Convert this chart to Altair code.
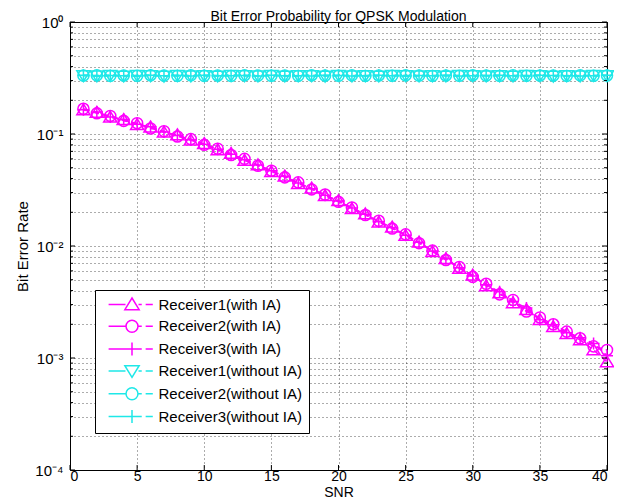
import altair as alt
import pandas as pd

FONT = "Liberation Sans, Arial, Helvetica, sans-serif"

snr = list(range(1, 41))
series_names = ["Receiver1(with IA)", "Receiver2(with IA)", "Receiver3(with IA)",
                "Receiver1(without IA)", "Receiver2(without IA)", "Receiver3(without IA)"]

r1_ia = [0.164, 0.156, 0.141, 0.134, 0.121, 0.115, 0.104, 0.098, 0.088, 0.082,
         0.072, 0.067, 0.058, 0.053, 0.046, 0.042, 0.036, 0.0328, 0.0281, 0.0254,
         0.0215, 0.0193, 0.0163, 0.0147, 0.0124, 0.0108, 0.0089, 0.0077, 0.0063, 0.0055,
         0.0044, 0.0038, 0.0031, 0.0027, 0.0022, 0.0019, 0.00165, 0.00145, 0.00118, 0.00092]
r2_ia = [0.168, 0.153, 0.145, 0.131, 0.125, 0.112, 0.106, 0.095, 0.090, 0.080,
         0.074, 0.065, 0.060, 0.052, 0.047, 0.041, 0.037, 0.0320, 0.0288, 0.0248,
         0.0221, 0.0189, 0.0168, 0.0143, 0.0127, 0.0106, 0.0091, 0.0075, 0.0065, 0.0053,
         0.0046, 0.0037, 0.0033, 0.0026, 0.0023, 0.0020, 0.00172, 0.00150, 0.00127, 0.00118]
r3_ia = [0.165, 0.157, 0.142, 0.135, 0.122, 0.116, 0.104, 0.097, 0.089, 0.081,
         0.073, 0.066, 0.059, 0.053, 0.047, 0.042, 0.0365, 0.0325, 0.0284, 0.0252,
         0.0218, 0.0192, 0.0165, 0.0146, 0.0125, 0.0108, 0.0090, 0.0077, 0.0064, 0.0054,
         0.0045, 0.0039, 0.0032, 0.0028, 0.0022, 0.00198, 0.00168, 0.00152, 0.00135, 0.00105]
r1_no = [0.333, 0.331, 0.335, 0.330, 0.334, 0.332, 0.329, 0.334, 0.331, 0.333,
         0.330, 0.335, 0.332, 0.331, 0.334, 0.330, 0.333, 0.332, 0.329, 0.334,
         0.331, 0.333, 0.330, 0.335, 0.332, 0.331, 0.333, 0.330, 0.334, 0.332,
         0.331, 0.333, 0.330, 0.334, 0.332, 0.329, 0.333, 0.331, 0.334, 0.332]
r2_no = [0.332, 0.334, 0.330, 0.333, 0.331, 0.335, 0.332, 0.330, 0.334, 0.331,
         0.333, 0.330, 0.334, 0.332, 0.331, 0.333, 0.330, 0.335, 0.332, 0.331,
         0.334, 0.330, 0.333, 0.331, 0.334, 0.332, 0.330, 0.333, 0.331, 0.335,
         0.332, 0.330, 0.334, 0.331, 0.333, 0.332, 0.330, 0.334, 0.331, 0.333]
r3_no = [0.334, 0.330, 0.333, 0.332, 0.330, 0.334, 0.331, 0.333, 0.330, 0.334,
         0.332, 0.331, 0.333, 0.330, 0.334, 0.331, 0.332, 0.330, 0.334, 0.333,
         0.330, 0.332, 0.334, 0.331, 0.330, 0.333, 0.332, 0.334, 0.330, 0.331,
         0.333, 0.334, 0.331, 0.330, 0.334, 0.333, 0.331, 0.330, 0.332, 0.334]

series_values = [r1_ia, r2_ia, r3_ia, r1_no, r2_no, r3_no]
series_colors = ["#ff00ff", "#ff00ff", "#ff00ff", "#1ee8e8", "#1ee8e8", "#1ee8e8"]

x_ticks = [0, 5, 10, 15, 20, 25, 30, 35, 40]
y_major = [1e-4, 1e-3, 1e-2, 1e-1, 1.0]
y_major_labels = ["10\u207b\u2074", "10\u207b\u00b3", "10\u207b\u00b2", "10\u207b\u00b9", "10\u2070"]
y_minor = [m * 10.0 ** e for e in range(-4, 0) for m in range(2, 10)]

# marker shapes (plot) and legend samples (line + marker)
TRI_UP = "M0,-1L1.1,0.8L-1.1,0.8Z"
TRI_DN = "M0,1L1.1,-0.8L-1.1,-0.8Z"
CIRC = "M0.92,0A0.92,0.92,0,1,1,-0.92,0A0.92,0.92,0,1,1,0.92,0Z"
PLUS = "M-1,0L1,0M0,-1L0,1"
marker_paths = [TRI_UP, CIRC, PLUS, TRI_DN, CIRC, PLUS]
LINE_SAMPLE = "M-3.6,0L-1,0M1,0L1.5,0M2.1,0L3.2,0"
legend_paths = [LINE_SAMPLE + p for p in marker_paths]

rows = []
for name, vals in zip(series_names, series_values):
    for s, v in zip(snr, vals):
        rows.append({"series": name, "snr": s, "ber": v})
df = pd.DataFrame(rows)

W, H = 537, 448

label_expr = " : ".join(
    f"abs(datum.value - {v}) < {v * 1e-6} ? '{t}'" for v, t in zip(y_major, y_major_labels)
) + " : ''"

x_enc = alt.X("snr:Q", scale=alt.Scale(domain=[0, 40], nice=False, zero=False),
              axis=alt.Axis(values=x_ticks, title="SNR", grid=True, ticks=False, tickSize=0,
                            domain=False, labelPadding=-1, format="d", labelFontSize=14,
                            titleFontSize=14, titleY=26, titleBaseline="alphabetic"))
y_enc = alt.Y("ber:Q", scale=alt.Scale(type="log", domain=[1e-4, 1], nice=False),
              axis=alt.Axis(values=y_major + y_minor, title="Bit Error Rate", grid=True,
                            ticks=False, tickSize=0, domain=False, labelPadding=7,
                            labelExpr=label_expr, labelBaseline="middle",
                            titleX=-48, titleY=H / 2, titleAngle=270,
                            titleBaseline="middle", titleAlign="center"))

color_scale = alt.Scale(domain=series_names, range=series_colors)

lines = alt.Chart(df).mark_line(strokeWidth=1.5, strokeDash=[6, 4]).encode(
    x=x_enc, y=y_enc,
    color=alt.Color("series:N", scale=color_scale, legend=None),
    detail="series:N",
)

points = alt.Chart(df).mark_point(filled=False, strokeWidth=1.5, size=144, opacity=1).encode(
    x=x_enc, y=y_enc,
    color=alt.Color("series:N", scale=color_scale, legend=None),
    shape=alt.Shape("series:N", scale=alt.Scale(domain=series_names, range=marker_paths), legend=None),
    order=alt.Order("idx:Q"),
).transform_calculate(idx="indexof(" + str(series_names) + ", datum.series) * 100 + datum.snr")

legend_props = dict(title=None, orient="none", legendX=25, legendY=268,
                    strokeColor="black", fillColor="white", padding=7,
                    labelFont=FONT, labelFontSize=15, labelColor="black",
                    symbolSize=169, symbolStrokeWidth=1.5,
                    symbolOffset=22.5, labelOffset=19, rowPadding=3.8,
                    labelLimit=400)

legend_layer = alt.Chart(df).mark_point(filled=False, strokeWidth=1.5, size=169, opacity=1).encode(
    x=x_enc, y=y_enc,
    color=alt.Color("series:N", scale=color_scale, legend=alt.Legend(**legend_props)),
    shape=alt.Shape("series:N", scale=alt.Scale(domain=series_names, range=legend_paths),
                    legend=alt.Legend(**legend_props)),
).transform_filter("datum.snr < 0")

xt = pd.DataFrame({"snr": x_ticks})
ymaj = pd.DataFrame({"ber": y_major})
ymin = pd.DataFrame({"ber": y_minor})

tick_style = dict(color="black", strokeWidth=1)
x_ticks_bottom = alt.Chart(xt).mark_rule(**tick_style).encode(x=x_enc, y=alt.value(H), y2=alt.value(H - 5))
x_ticks_top = alt.Chart(xt).mark_rule(**tick_style).encode(x=x_enc, y=alt.value(0), y2=alt.value(5))
y_maj_left = alt.Chart(ymaj).mark_rule(**tick_style).encode(y=y_enc, x=alt.value(0), x2=alt.value(5))
y_maj_right = alt.Chart(ymaj).mark_rule(**tick_style).encode(y=y_enc, x=alt.value(W), x2=alt.value(W - 5))
y_min_left = alt.Chart(ymin).mark_rule(**tick_style).encode(y=y_enc, x=alt.value(0), x2=alt.value(3))
y_min_right = alt.Chart(ymin).mark_rule(**tick_style).encode(y=y_enc, x=alt.value(W), x2=alt.value(W - 3))

chart = alt.layer(
    lines, points, x_ticks_bottom, x_ticks_top, y_maj_left, y_maj_right, y_min_left, y_min_right,
    legend_layer,
).resolve_scale(
    color="independent", shape="independent"
).properties(
    width=W, height=H,
    background="white",
    title=alt.TitleParams("Bit Error Probability for QPSK Modulation", font=FONT, fontSize=14,
                          fontWeight="normal", color="black", offset=4, anchor="middle",
                          frame="group", dy=12.5),
    autosize=alt.AutoSizeParams(type="none"),
    padding={"left": 62, "top": 14, "right": 7, "bottom": 27},
).configure_view(
    stroke="black", strokeWidth=1
).configure_axis(
    labelFont=FONT, labelFontSize=15, labelColor="black",
    titleFont=FONT, titleFontSize=15, titleColor="black", titleFontWeight="normal",
    gridColor="black", gridDash=[1, 3], gridOpacity=0.65, gridWidth=1,
)

chart.save("out.html", embed_options={"renderer": "svg", "actions": False})
